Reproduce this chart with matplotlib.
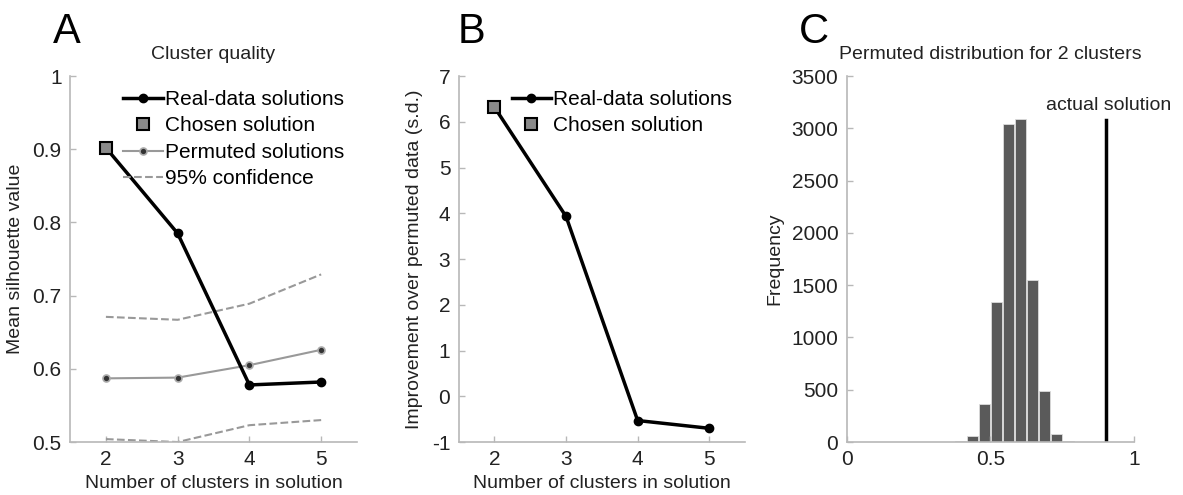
import numpy as np
import matplotlib
matplotlib.use("Agg")
import matplotlib.pyplot as plt

plt.rcParams['font.family'] = ['Liberation Sans', 'DejaVu Sans']
plt.rcParams['axes.unicode_minus'] = False

## Data
n_clusters = [2, 3, 4, 5]
real_sil = [0.902, 0.785, 0.578, 0.582]
perm_sil = [0.587, 0.588, 0.605, 0.626]
ci_upper = [0.671, 0.667, 0.689, 0.729]
ci_lower = [0.504, 0.500, 0.523, 0.530]
chosen_k = 2

improvement = [6.32, 3.93, -0.53, -0.70]

bin_centers = [0.395, 0.437, 0.479, 0.521, 0.563, 0.605, 0.647, 0.689, 0.731, 0.773]
bin_counts = [10, 57, 367, 1337, 3037, 3088, 1554, 488, 80, 10]
actual_value = 0.902
actual_height = 3080

## Style
spine_col = '#b8b8b8'
text_col = '#222222'
fs_tick = 15
fs_label = 14


def style_axes(ax):
    for s in ['top', 'right']:
        ax.spines[s].set_visible(False)
    for s in ['left', 'bottom']:
        ax.spines[s].set_color(spine_col)
        ax.spines[s].set_linewidth(1.2)
    ax.tick_params(direction='in', length=4, width=1, color=spine_col,
                   labelsize=fs_tick, labelcolor=text_col, pad=6)


fig = plt.figure(figsize=(11.83, 4.95), dpi=100)
axA = fig.add_axes([0.0592, 0.107, 0.2426, 0.7394])
axB = fig.add_axes([0.3877, 0.107, 0.2421, 0.7394])
axC = fig.add_axes([0.7157, 0.107, 0.2429, 0.7394])

legend_kw = dict(loc='upper left', bbox_to_anchor=(0.185, 0.962), frameon=False,
                 fontsize=fs_tick, handlelength=1.9, handletextpad=0.1,
                 labelspacing=0.36, borderpad=0, borderaxespad=0)

# Panel A
idx = n_clusters.index(chosen_k)
axA.plot(n_clusters, real_sil, color='black', lw=2.5, marker='o', ms=6,
         label='Real-data solutions', zorder=4)
axA.plot([chosen_k], [real_sil[idx]], ls='none', marker='s', ms=8,
         mfc='#8a8a8a', mec='black', mew=1.5, label='Chosen solution', zorder=5)
axA.plot(n_clusters, perm_sil, color='#999999', lw=1.5, marker='o', ms=5,
         mfc='#333333', mec='#aaaaaa', mew=1.2, label='Permuted solutions', zorder=3)
axA.plot(n_clusters, ci_upper, color='#999999', lw=1.5, ls='--', label='95% confidence')
axA.plot(n_clusters, ci_lower, color='#999999', lw=1.5, ls='--')
axA.set_xlim(1.5, 5.5)
axA.set_ylim(0.5, 1.0)
axA.set_xticks(n_clusters)
axA.set_yticks([0.5, 0.6, 0.7, 0.8, 0.9, 1.0])
axA.set_yticklabels(['0.5', '0.6', '0.7', '0.8', '0.9', '1'])
style_axes(axA)
axA.set_xlabel('Number of clusters in solution', fontsize=fs_label, color=text_col, labelpad=4)
axA.set_ylabel('Mean silhouette value', fontsize=fs_label, color=text_col, labelpad=6)
axA.set_title('Cluster quality', fontsize=fs_label, color=text_col, pad=12)
axA.legend(**legend_kw)

# Panel B
axB.plot(n_clusters, improvement, color='black', lw=2.5, marker='o', ms=6,
         label='Real-data solutions', zorder=4)
axB.plot([chosen_k], [improvement[idx]], ls='none', marker='s', ms=8,
         mfc='#8a8a8a', mec='black', mew=1.5, label='Chosen solution', zorder=5)
axB.set_xlim(1.5, 5.5)
axB.set_ylim(-1, 7)
axB.set_xticks(n_clusters)
axB.set_yticks(range(-1, 8))
style_axes(axB)
axB.set_xlabel('Number of clusters in solution', fontsize=fs_label, color=text_col, labelpad=4)
axB.set_ylabel('Improvement over permuted data (s.d.)', fontsize=fs_label, color=text_col, labelpad=6)
axB.legend(**legend_kw)

# Panel C
axC.bar(bin_centers, bin_counts, width=0.038, color='#5a5a5a', edgecolor='#dddddd', lw=0.6)
axC.plot([actual_value, actual_value], [0, actual_height], color='black', lw=2.5)
axC.text(actual_value + 0.01, actual_height + 60, 'actual solution', ha='center', va='bottom',
         fontsize=fs_label, color=text_col)
axC.set_xlim(0, 1)
axC.set_ylim(0, 3500)
axC.set_xticks([0, 0.5, 1])
axC.set_xticklabels(['0', '0.5', '1'])
axC.set_yticks(range(0, 3501, 500))
style_axes(axC)
axC.set_ylabel('Frequency', fontsize=fs_label, color=text_col, labelpad=6)
axC.set_title('Permuted distribution for 2 clusters', fontsize=fs_label, color=text_col, pad=12)

# Panel letters
for x, letter in [(0.045, 'A'), (0.387, 'B'), (0.675, 'C')]:
    fig.text(x, 0.975, letter, fontsize=30, va='top', ha='left', color='black')

fig.savefig('out.png', dpi=100)
